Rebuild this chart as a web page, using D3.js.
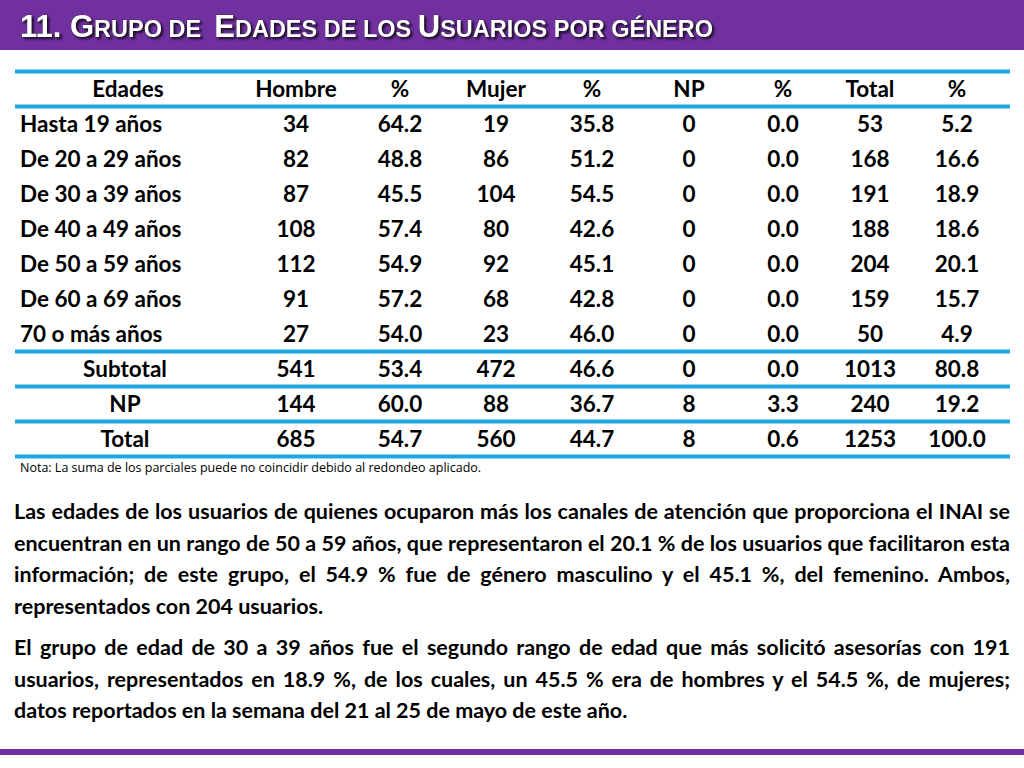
<!DOCTYPE html>
<html><head><meta charset="utf-8">
<script src="https://cdn.jsdelivr.net/npm/d3@7"></script>
<style>
body{margin:0;width:1024px;height:768px;overflow:hidden;background:#fff;font-family:Lato,"Open Sans",sans-serif}
#txt{position:absolute;left:14px;top:496px;width:996px;font-weight:bold;font-size:21.5px;line-height:31.5px;text-align:justify;color:#000}
#txt p{margin:0 0 10px 0}
</style></head><body>
<svg id="chart" width="1024" height="768" style="position:absolute;left:0;top:0"></svg>
<div id="txt"></div>
<script>
// encabezados y datos de la tabla
const headers = ['Edades', 'Hombre', '%', 'Mujer', '%', 'NP', '%', 'Total', '%']
const edades = ['Hasta 19 años', 'De 20 a 29 años', 'De 30 a 39 años', 'De 40 a 49 años', 'De 50 a 59 años', 'De 60 a 69 años', '70 o más años', 'Subtotal', 'NP', 'Total']
const hombre = [34, 82, 87, 108, 112, 91, 27, 541, 144, 685]
const hombrePct = ['64.2', '48.8', '45.5', '57.4', '54.9', '57.2', '54.0', '53.4', '60.0', '54.7']
const mujer = [19, 86, 104, 80, 92, 68, 23, 472, 88, 560]
const mujerPct = ['35.8', '51.2', '54.5', '42.6', '45.1', '42.8', '46.0', '46.6', '36.7', '44.7']
const np = [0, 0, 0, 0, 0, 0, 0, 0, 8, 8]
const npPct = ['0.0', '0.0', '0.0', '0.0', '0.0', '0.0', '0.0', '0.0', '3.3', '0.6']
const total = [53, 168, 191, 188, 204, 159, 50, 1013, 240, 1253]
const totalPct = ['5.2', '16.6', '18.9', '18.6', '20.1', '15.7', '4.9', '80.8', '19.2', '100.0']
const lineasTras = [-1, 0, 7, 8, 9, 10] // bordes azules (índice de fila)

const svg = d3.select('#chart')
svg.append('rect').attr('x', 0).attr('y', 0).attr('width', 1024).attr('height', 50).attr('fill', '#7030a0')
svg.append('rect').attr('x', 0).attr('y', 749).attr('width', 1024).attr('height', 6).attr('fill', '#7030a0')

const titulo = svg.append('text').attr('x', 20).attr('y', 37)
  .attr('font-family', 'Liberation Sans, Arial').attr('font-weight', 'bold')
  .attr('fill', '#fff').attr('stroke', '#222').attr('stroke-width', 0.6).attr('paint-order', 'stroke')
  .style('filter', 'drop-shadow(2px 2px 1px rgba(0,0,0,.7))')
;[['11. G', 31], ['RUPO DE  ', 23.5], ['E', 31], ['DADES DE LOS ', 23.5], ['U', 31], ['SUARIOS POR GÉNERO', 23.5]]
  .forEach(([t, s]) => titulo.append('tspan').attr('font-size', s).attr('xml:space', 'preserve').text(t))

const y = d3.scaleLinear().domain([-1, 9]).range([89, 439])
const colX = [20, 296, 400, 496, 592, 689, 783, 870, 957]
const cols = [edades, hombre, hombrePct, mujer, mujerPct, np, npPct, total, totalPct]

svg.selectAll('line.b').data(lineasTras).join('line')
  .attr('x1', 15).attr('x2', 1010)
  .attr('y1', d => y(d) - 17.5).attr('y2', d => y(d) - 17.5)
  .attr('stroke', '#1ea7e1').attr('stroke-width', 4)

const g = svg.append('g').attr('font-weight', 'bold').attr('font-size', 22.5).attr('fill', '#000')
g.selectAll('text.h').data(headers).join('text')
  .attr('x', (d, i) => i === 0 ? 128 : colX[i]).attr('y', y(-1) + 8)
  .attr('text-anchor', 'middle').text(d => d)

cols.forEach((c, ci) => {
  g.selectAll('text.c' + ci).data(c).join('text')
    .attr('x', (d, i) => ci === 0 ? (i >= 7 ? 125 : colX[0]) : colX[ci])
    .attr('y', (d, i) => y(i) + 8)
    .attr('text-anchor', (d, i) => ci === 0 && i < 7 ? 'start' : 'middle')
    .text(d => d)
})

svg.append('text').attr('x', 20).attr('y', 472).attr('font-size', 12.5)
  .attr('font-family', 'Open Sans').text('Nota: La suma de los parciales puede no coincidir debido al redondeo aplicado.')

d3.select('#txt').selectAll('p').data([
  'Las edades de los usuarios de quienes ocuparon más los canales de atención que proporciona el INAI se encuentran en un rango de 50 a 59 años, que representaron el 20.1 % de los usuarios que facilitaron esta información; de este grupo, el 54.9 % fue de género masculino y el 45.1 %, del femenino. Ambos, representados con 204 usuarios.',
  'El grupo de edad de 30 a 39 años fue el segundo rango de edad que más solicitó asesorías con 191 usuarios, representados en 18.9 %, de los cuales, un 45.5 % era de hombres y el 54.5 %, de mujeres; datos reportados en la semana del 21 al 25 de mayo de este año.'
]).join('p').text(d => d)
</script></body></html>
